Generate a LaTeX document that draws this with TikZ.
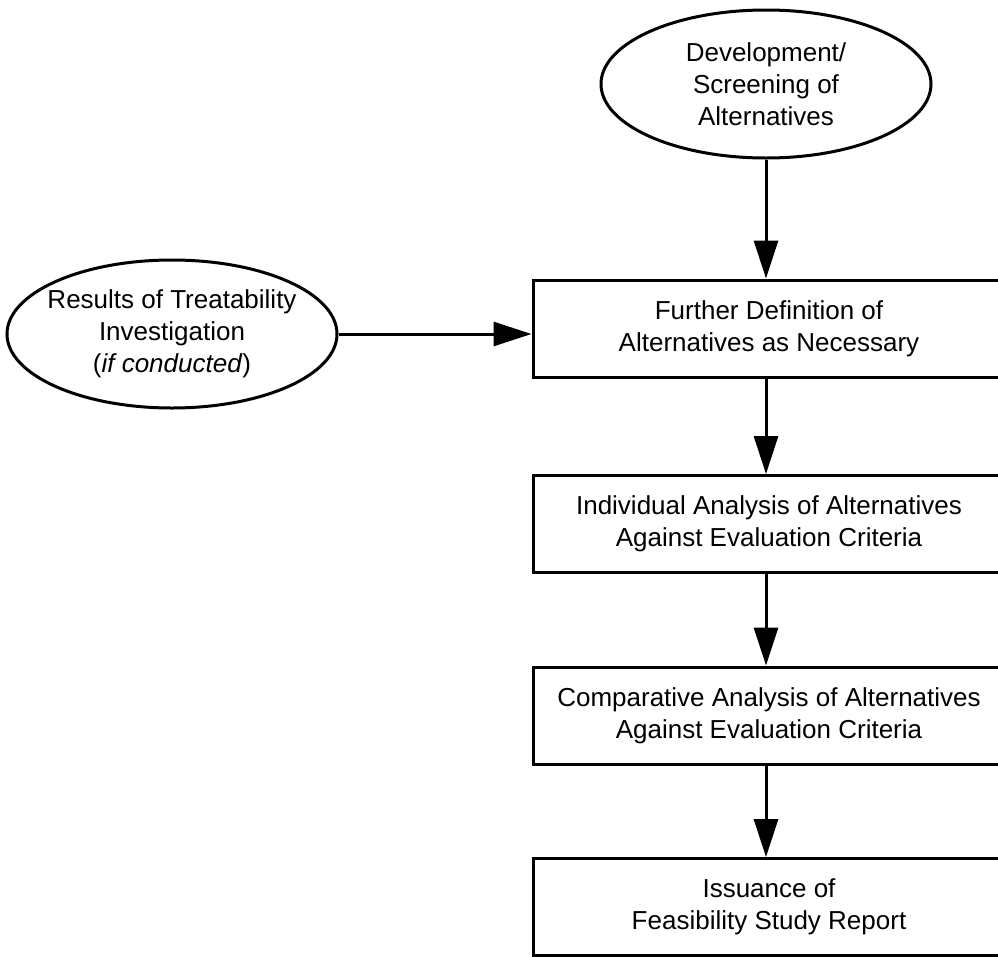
\documentclass[tikz,border=0pt]{standalone}
\usepackage{fontspec}
\setmainfont{Liberation Sans}
\usetikzlibrary{shapes.geometric,arrows.meta}
\begin{document}
\begin{tikzpicture}[x=1pt,y=-1pt,
  every node/.style={font=\fontsize{26}{32}\selectfont, align=center},
  oval/.style={draw, ellipse, line width=3pt, inner xsep=-12pt, inner ysep=0pt,
               minimum width=330pt, minimum height=148pt},
  stepbox/.style={draw, rectangle, line width=3pt, minimum width=472pt,
                  minimum height=97pt, inner sep=0pt},
  flow/.style={line width=3pt, -{Triangle[length=38pt,width=24pt]}}
]
\useasboundingbox (0,0) rectangle (998,956);
\clip (0,0) rectangle (998,956);

% inputs
\node[oval] (dev) at (766,84) {Development/\\Screening of\\Alternatives};
\node[oval] (res) at (172,334) {Results of Treatability\\Investigation\\(\textit{if conducted})};

% main sequence of steps
\node[stepbox] (def) at (769,328.5) {Further Definition of\\Alternatives as Necessary};
\node[stepbox] (ind) at (769,524) {Individual Analysis of Alternatives\\Against Evaluation Criteria};
\node[stepbox] (cmp) at (769,715.5) {Comparative Analysis of Alternatives\\Against Evaluation Criteria};
\node[stepbox] (iss) at (769,907) {Issuance of\\Feasibility Study Report};

% connectors
\draw[flow] (dev.south) -- (dev.south |- def.north);
\draw[flow] (res.east) -- (res.east -| def.west);
\draw[flow] (dev.south |- def.south) -- (dev.south |- ind.north);
\draw[flow] (dev.south |- ind.south) -- (dev.south |- cmp.north);
\draw[flow] (dev.south |- cmp.south) -- (dev.south |- iss.north);
\end{tikzpicture}
\end{document}
